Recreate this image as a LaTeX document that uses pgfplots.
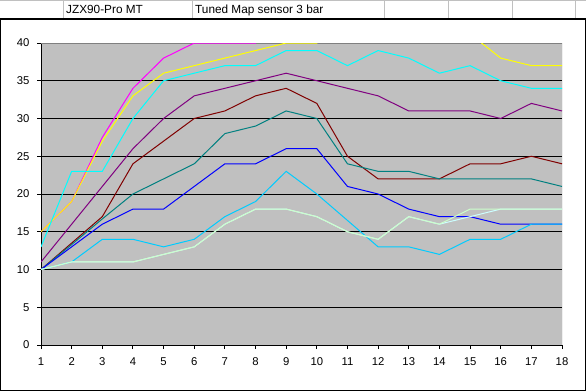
\documentclass[border=0pt]{standalone}
\usepackage{fontspec}
\setmainfont{Liberation Sans}
\usepackage{pgfplots}
\pgfplotsset{compat=1.18}
\definecolor{plotgray}{RGB}{192,192,192}
\definecolor{cellgray}{RGB}{192,192,192}
\definecolor{bordergray}{RGB}{128,128,128}
\definecolor{smagenta}{RGB}{255,0,255}
\definecolor{syellow}{RGB}{255,255,0}
\definecolor{scyan}{RGB}{0,255,255}
\definecolor{spurple}{RGB}{128,0,128}
\definecolor{sdarkred}{RGB}{128,0,0}
\definecolor{steal}{RGB}{0,128,128}
\definecolor{sblue}{RGB}{0,0,255}
\definecolor{ssky}{RGB}{0,204,255}
\definecolor{spalecyan}{RGB}{204,255,255}
\definecolor{sgreen}{RGB}{204,255,204}
\begin{document}
\begin{tikzpicture}[x=1pt,y=1pt]
\useasboundingbox (0,0) rectangle (586,391);
\fill[white] (0,0) rectangle (586,391);
% spreadsheet header row
\draw[cellgray,line width=1pt] (0,390.5) -- (586,390.5);
\foreach \cx in {63.5,192.5,384,448,512,575}{\draw[cellgray,line width=1pt] (\cx,372) -- (\cx,391);}
\node[anchor=base west,inner sep=0pt,font=\fontsize{11.8}{13}\selectfont] at (66,377) {JZX90-Pro MT};
\node[anchor=base west,inner sep=0pt,font=\fontsize{11.8}{13}\selectfont] at (195,377) {Tuned Map sensor 3 bar};
% chart area border
\draw[black,line width=1.2pt] (0.6,0.6) rectangle (585.4,372);
\begin{axis}[
  at={(41pt,46pt)}, anchor=south west, scale only axis,
  width=521pt, height=302pt,
  xmin=1, xmax=18, ymin=0, ymax=40,
  xtick={1,...,18}, ytick={0,5,...,40},
  axis x line*=bottom, axis y line*=left,
  axis line style={black, line width=1pt, -},
  tick align=outside, major tick length=4pt,
  every tick/.style={black, line width=1pt},
  axis background/.style={fill=plotgray},
  ymajorgrids, major grid style={black, line width=1pt},
  ticklabel style={font=\fontsize{11.3}{13}\selectfont},
  xticklabel style={yshift=-5pt},
  yticklabel style={xshift=-4pt},
  /pgf/number format/assume math mode=true,
  every axis plot/.append style={line width=1pt, mark=none},
]
\draw[bordergray,line width=1pt] (rel axis cs:0,1) -- (rel axis cs:1,1) -- (rel axis cs:1,0);
% magenta
\addplot[smagenta] coordinates {(1,15)(2,19)(3,27.5)(4,34)(5,38)(6,40)(7,40)(8,40)(9,42)(10,43)(11,43)(12,44)(13,44)(14,44)(15,45)(16,45)(17,45)(18,45)};
% yellow
\addplot[syellow] coordinates {(1,15)(2,19)(3,27)(4,33)(5,36)(6,37)(7,38)(8,39)(9,40)(10,40)(11,42)(12,43)(13,43)(14,42)(15,41.2)(16,38)(17,37)(18,37)};
% cyan
\addplot[scyan] coordinates {(1,13)(2,23)(3,23)(4,30)(5,35)(6,36)(7,37)(8,37)(9,39)(10,39)(11,37)(12,39)(13,38)(14,36)(15,37)(16,35)(17,34)(18,34)};
% purple
\addplot[spurple] coordinates {(1,11)(2,16)(3,21)(4,26)(5,30)(6,33)(7,34)(8,35)(9,36)(10,35)(11,34)(12,33)(13,31)(14,31)(15,31)(16,30)(17,32)(18,31)};
% dark red
\addplot[sdarkred] coordinates {(1,10)(2,13.5)(3,17)(4,24)(5,27)(6,30)(7,31)(8,33)(9,34)(10,32)(11,25)(12,22)(13,22)(14,22)(15,24)(16,24)(17,25)(18,24)};
% teal
\addplot[steal] coordinates {(1,10)(2,13.3)(3,16.7)(4,20)(5,22)(6,24)(7,28)(8,29)(9,31)(10,30)(11,24)(12,23)(13,23)(14,22)(15,22)(16,22)(17,22)(18,21)};
% blue
\addplot[sblue] coordinates {(1,10)(2,13)(3,16)(4,18)(5,18)(6,21)(7,24)(8,24)(9,26)(10,26)(11,21)(12,20)(13,18)(14,17)(15,17)(16,16)(17,16)(18,16)};
% sky blue
\addplot[ssky] coordinates {(1,10)(2,11)(3,14)(4,14)(5,13)(6,14)(7,17)(8,19)(9,23)(10,20)(11,16.5)(12,13)(13,13)(14,12)(15,14)(16,14)(17,16)(18,16)};
% pale cyan
\addplot[spalecyan] coordinates {(1,10)(2,11)(3,11)(4,11)(5,12)(6,13)(7,16)(8,18)(9,18)(10,17)(11,15)(12,14)(13,17)(14,16)(15,17)(16,18)(17,18)(18,18)};
% light green
\addplot[sgreen] coordinates {(1,10)(2,11)(3,11)(4,11)(5,12)(6,13)(7,16)(8,18)(9,18)(10,17)(11,15)(12,14)(13,17)(14,16)(15,18)(16,18)(17,18)(18,18)};
\end{axis}
\end{tikzpicture}
\end{document}
